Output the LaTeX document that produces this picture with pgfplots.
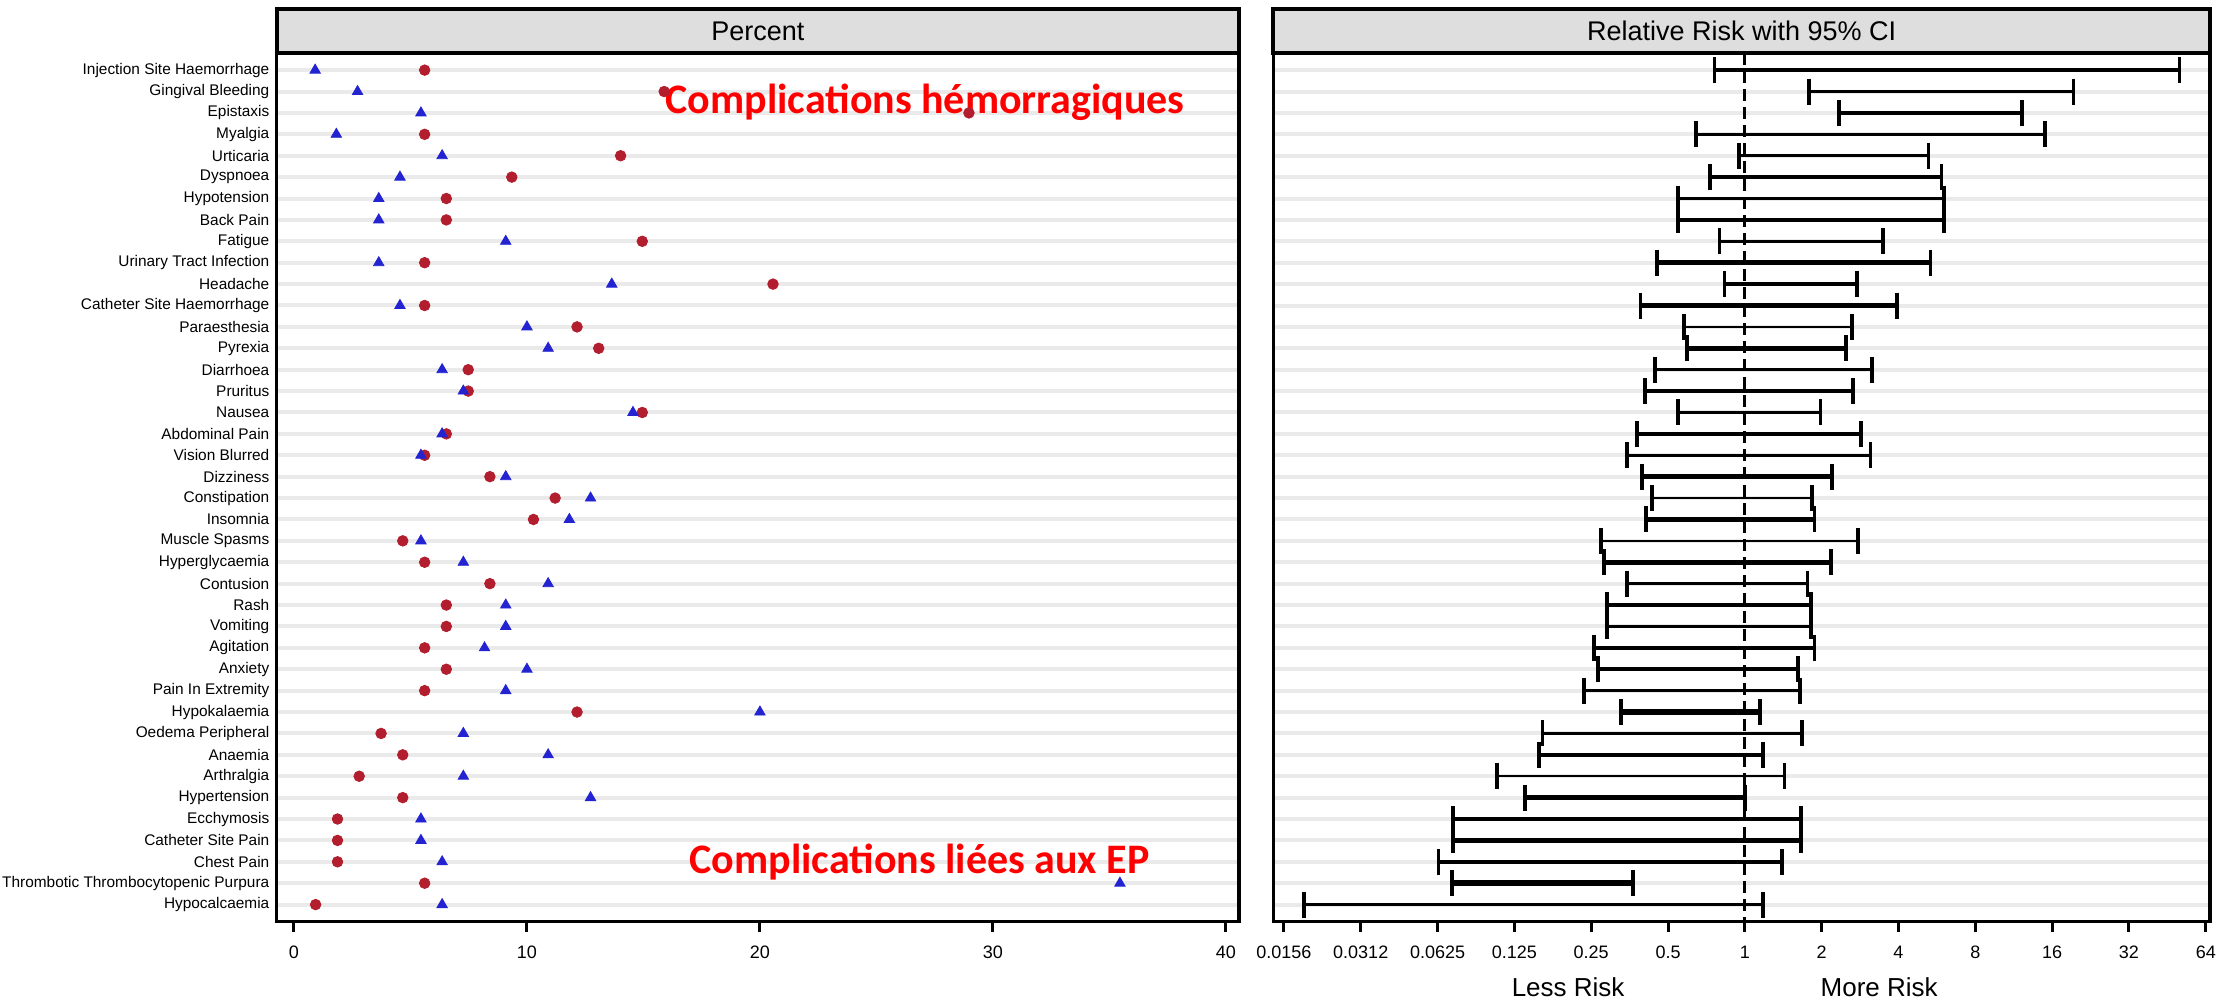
\documentclass[border=0pt]{standalone}
\usepackage{fontspec}
\setmainfont{Liberation Sans}
\newfontfamily\calib{Carlito}
\usepackage{pgfplots}
\pgfplotsset{compat=1.18}
\newlength\px \setlength\px{0.5pt}
\definecolor{circ}{RGB}{178,30,45}
\definecolor{tri}{RGB}{35,35,210}
\definecolor{hdr}{RGB}{222,222,222}
\definecolor{band}{RGB}{234,234,234}
\definecolor{ann}{RGB}{255,0,0}
\pgfplotsset{
  panel/.style={
    scale only axis, height=868.7\px, y dir=reverse,
    ymin=0.2, ymax=40.8, ytick={1,...,40},
    ymajorgrids, grid style={line width=4\px, color=band},
    axis line style={line width=3.5\px},
    tick align=outside, major tick length=10\px,
    xtick style={line width=3\px, black},
    ytick style={draw=none},
    xticklabel style={font=\fontsize{9}{10}\selectfont, inner sep=0pt, yshift=-14\px},
    /pgf/number format/assume math mode=true,
    clip=false,
  },
  ci/.style={black, line width=#1, mark=|, mark size=13\px, mark options={solid, line width=3.8\px}},
}
\newcommand\ci[4]{\addplot[ci=#4] coordinates {(#1,#3) (#2,#3)};}
\begin{document}
\begin{tikzpicture}
\begin{axis}[panel, name=L, at={(276.7\px,-921.7\px)}, anchor=south west,
  width=962.3\px, xmin=-0.74, xmax=40.56, xtick={0,10,20,30,40},
  yticklabels={Injection Site Haemorrhage, Gingival Bleeding, Epistaxis, Myalgia, Urticaria, Dyspnoea, Hypotension, Back Pain, Fatigue, Urinary Tract Infection, Headache, Catheter Site Haemorrhage, Paraesthesia, Pyrexia, Diarrhoea, Pruritus, Nausea, Abdominal Pain, Vision Blurred, Dizziness, Constipation, Insomnia, Muscle Spasms, Hyperglycaemia, Contusion, Rash, Vomiting, Agitation, Anxiety, Pain In Extremity, Hypokalaemia, Oedema Peripheral, Anaemia, Arthralgia, Hypertension, Ecchymosis, Catheter Site Pain, Chest Pain, Thrombotic Thrombocytopenic Purpura, Hypocalcaemia},
  yticklabel style={font=\fontsize{7.7}{8}\selectfont, inner sep=0pt, xshift=3\px},
]
\addplot[only marks, mark=*, mark size=5.3\px, color=circ] coordinates {
(5.61,1) (15.89,2) (28.97,3) (5.61,4) (14.02,5) (9.35,6) (6.54,7) (6.54,8) (14.95,9) (5.61,10)
(20.56,11) (5.61,12) (12.15,13) (13.08,14) (7.48,15) (7.48,16) (14.95,17) (6.54,18) (5.61,19) (8.41,20)
(11.21,21) (10.28,22) (4.67,23) (5.61,24) (8.41,25) (6.54,26) (6.54,27) (5.61,28) (6.54,29) (5.61,30)
(12.15,31) (3.74,32) (4.67,33) (2.80,34) (4.67,35) (1.87,36) (1.87,37) (1.87,38) (5.61,39) (0.93,40)};
\addplot[only marks, mark=triangle*, mark size=6\px, color=tri] coordinates {
(0.91,1) (2.73,2) (5.45,3) (1.82,4) (6.36,5) (4.55,6) (3.64,7) (3.64,8) (9.09,9) (3.64,10)
(13.64,11) (4.55,12) (10.00,13) (10.91,14) (6.36,15) (7.27,16) (14.55,17) (6.36,18) (5.45,19) (9.09,20)
(12.73,21) (11.82,22) (5.45,23) (7.27,24) (10.91,25) (9.09,26) (9.09,27) (8.18,28) (10.00,29) (9.09,30)
(20.00,31) (7.27,32) (10.91,33) (7.27,34) (12.73,35) (5.45,36) (5.45,37) (6.36,38) (35.45,39) (6.36,40)};
\node[font=\calib\bfseries\fontsize{21}{24}\selectfont, text=ann] at (axis cs:27.09,2.51) {Complications hémorragiques};
\node[font=\calib\bfseries\fontsize{21}{24}\selectfont, text=ann] at (axis cs:26.85,38.0) {Complications liées aux EP};
\end{axis}
\draw[line width=4\px, fill=hdr] (L.north west) rectangle ([yshift=43.7\px]L.north east);
\node[font=\fontsize{13.5}{15}\selectfont] at ([yshift=21.85\px]L.north) {Percent};

\begin{axis}[panel, name=R, at={(1273.4\px,-921.7\px)}, anchor=south west,
  width=936.6\px, xmode=log, log basis x=2, xmin=0.01421, xmax=66.5,
  xtick={0.015625,0.03125,0.0625,0.125,0.25,0.5,1,2,4,8,16,32,64},
  xticklabels={0.0156,0.0312,0.0625,0.125,0.25,0.5,1,2,4,8,16,32,64},
  yticklabels={},
]
\ci{0.761}{50.5}{1}{4.5\px}
\ci{1.78}{19.4}{2}{3.5\px}
\ci{2.33}{12.2}{3}{3.5\px}
\ci{0.644}{15.0}{4}{2.5\px}
\ci{0.946}{5.24}{5}{2.5\px}
\ci{0.732}{5.9}{6}{4.5\px}
\ci{0.548}{6.03}{7}{3.5\px}
\ci{0.548}{6.03}{8}{4.5\px}
\ci{0.796}{3.48}{9}{2.5\px}
\ci{0.451}{5.34}{10}{4.5\px}
\ci{0.832}{2.75}{11}{3.5\px}
\ci{0.39}{3.95}{12}{4.5\px}
\ci{0.576}{2.62}{13}{2.5\px}
\ci{0.593}{2.49}{14}{4.5\px}
\ci{0.446}{3.15}{15}{2.5\px}
\ci{0.406}{2.66}{16}{4.5\px}
\ci{0.548}{1.98}{17}{3.5\px}
\ci{0.378}{2.86}{18}{4.5\px}
\ci{0.346}{3.11}{19}{2.5\px}
\ci{0.395}{2.20}{20}{4.5\px}
\ci{0.434}{1.83}{21}{2.5\px}
\ci{0.411}{1.875}{22}{4.5\px}
\ci{0.273}{2.77}{23}{2.5\px}
\ci{0.28}{2.17}{24}{4.5\px}
\ci{0.346}{1.76}{25}{2.5\px}
\ci{0.288}{1.82}{26}{4.5\px}
\ci{0.288}{1.82}{27}{3.5\px}
\ci{0.256}{1.875}{28}{3.5\px}
\ci{0.266}{1.62}{29}{4.5\px}
\ci{0.234}{1.65}{30}{2.5\px}
\ci{0.327}{1.149}{31}{6\px}
\ci{0.161}{1.67}{32}{2.5\px}
\ci{0.156}{1.18}{33}{4.5\px}
\ci{0.107}{1.43}{34}{2.5\px}
\ci{0.138}{1.0}{35}{4.5\px}
\ci{0.072}{1.66}{36}{3.5\px}
\ci{0.072}{1.66}{37}{4.5\px}
\ci{0.063}{1.40}{38}{3.5\px}
\ci{0.071}{0.364}{39}{6\px}
\ci{0.0187}{1.18}{40}{3.5\px}
\addplot[black, line width=3.2\px, dash pattern=on 12\px off 6\px] coordinates {(1,0.2) (1,40.8)};
\node[font=\fontsize{13}{15}\selectfont] at (axis cs:0.203,40.8) [yshift=-65.3\px] {Less Risk};
\node[font=\fontsize{13}{15}\selectfont] at (axis cs:3.36,40.8) [yshift=-65.3\px] {More Risk};
\end{axis}
\draw[line width=4\px, fill=hdr] (R.north west) rectangle ([yshift=43.7\px]R.north east);
\node[font=\fontsize{13.5}{15}\selectfont] at ([yshift=21.85\px]R.north) {Relative Risk with 95\% CI};
\pgfresetboundingbox
\path[use as bounding box] (0,0) rectangle (2217\px,-1002\px);
\end{tikzpicture}
\end{document}
